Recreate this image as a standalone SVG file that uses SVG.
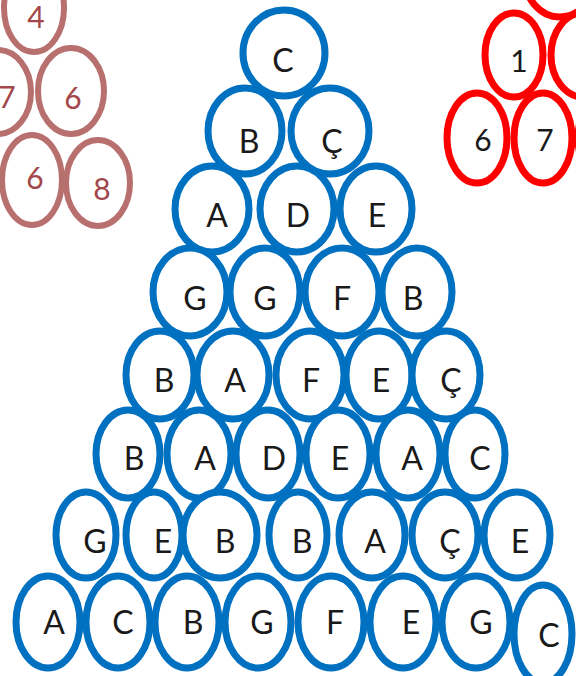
<svg xmlns="http://www.w3.org/2000/svg" width="576" height="676" viewBox="0 0 576 676">
<style>
.b{fill:#fff;stroke:#0070C0;stroke-width:7}
.r{fill:#fff;stroke:#FF0000;stroke-width:7}
.m{fill:#fff;stroke:#B8706F;stroke-width:6}
text{font-family:Lato,"Liberation Sans",sans-serif;font-size:32px;text-anchor:middle;fill:#1a1a1a}
.mt{fill:#A3474A;font-size:30px}
.rt{font-size:30px}
</style>
<rect width="576" height="676" fill="#fff"/>
<g id="connectors"/>
<!-- brown cluster -->
<g id="m4"><ellipse class="m" cx="34" cy="8" rx="30" ry="44"/><text class="mt" x="36" y="28">4</text></g>
<g id="m7"><ellipse class="m" cx="-2" cy="92" rx="33" ry="42"/><text class="mt" x="7" y="108">7</text></g>
<g id="m6a"><ellipse class="m" cx="71" cy="91" rx="33" ry="43"/><text class="mt" x="73" y="109">6</text></g>
<g id="m6b"><ellipse class="m" cx="32" cy="180" rx="30" ry="45"/><text class="mt" x="35" y="189">6</text></g>
<g id="m8"><ellipse class="m" cx="98" cy="183" rx="32" ry="43"/><text class="mt" x="102" y="200">8</text></g>
<!-- red cluster -->
<g id="rtop"><ellipse class="r" cx="560" cy="-25" rx="36" ry="42"/></g>
<g id="r1"><ellipse class="r" cx="514" cy="55" rx="29" ry="42"/><text class="rt" x="519" y="72">1</text></g>
<g id="rr1"><ellipse class="r" cx="583" cy="55" rx="32" ry="42"/></g>
<g id="r6"><ellipse class="r" cx="477" cy="138" rx="30" ry="45"/><text class="rt" x="483" y="151">6</text></g>
<g id="r7"><ellipse class="r" cx="543" cy="138" rx="29" ry="45"/><text class="rt" x="545" y="151">7</text></g>
<g id="rr2"><ellipse class="r" cx="608" cy="138" rx="30" ry="45"/></g>
<!-- blue pyramid row 1 -->
<g id="n1_1"><ellipse class="b" cx="284" cy="53" rx="41" ry="43"/><text x="283" y="71.5">C</text></g>
<!-- row 2 -->
<g id="n2_1"><ellipse class="b" cx="245" cy="131" rx="37" ry="43"/><text x="249" y="152.5">B</text></g>
<g id="n2_2"><ellipse class="b" cx="330" cy="131" rx="39" ry="43"/><text x="332" y="152.5">Ç</text></g>
<!-- row 3 -->
<g id="n3_1"><ellipse class="b" cx="212" cy="209" rx="37" ry="43"/><text x="217" y="226.5">A</text></g>
<g id="n3_2"><ellipse class="b" cx="297" cy="209" rx="37" ry="43"/><text x="298" y="226.5">D</text></g>
<g id="n3_3"><ellipse class="b" cx="376" cy="209" rx="36" ry="43"/><text x="377" y="226.5">E</text></g>
<!-- row 4 -->
<g id="n4_1"><ellipse class="b" cx="190" cy="292" rx="37" ry="44"/><text x="195" y="309.5">G</text></g>
<g id="n4_2"><ellipse class="b" cx="265" cy="292" rx="35" ry="44"/><text x="265" y="309.5">G</text></g>
<g id="n4_3"><ellipse class="b" cx="342" cy="292" rx="37" ry="44"/><text x="342" y="309.5">F</text></g>
<g id="n4_4"><ellipse class="b" cx="417" cy="292" rx="35" ry="44"/><text x="413" y="309.5">B</text></g>
<!-- row 5 -->
<g id="n5_1"><ellipse class="b" cx="160" cy="375" rx="34" ry="44"/><text x="164" y="391.5">B</text></g>
<g id="n5_2"><ellipse class="b" cx="233" cy="375" rx="36" ry="44"/><text x="235" y="391.5">A</text></g>
<g id="n5_3"><ellipse class="b" cx="310" cy="375" rx="34" ry="44"/><text x="311" y="391.5">F</text></g>
<g id="n5_4"><ellipse class="b" cx="379" cy="375" rx="33" ry="44"/><text x="381" y="391.5">E</text></g>
<g id="n5_5"><ellipse class="b" cx="446" cy="375" rx="34" ry="44"/><text x="451" y="391.5">Ç</text></g>
<!-- row 6 -->
<g id="n6_1"><ellipse class="b" cx="128" cy="454" rx="32" ry="44"/><text x="134" y="469.5">B</text></g>
<g id="n6_2"><ellipse class="b" cx="199" cy="454" rx="32" ry="44"/><text x="205" y="469.5">A</text></g>
<g id="n6_3"><ellipse class="b" cx="268" cy="454" rx="32" ry="44"/><text x="274" y="469.5">D</text></g>
<g id="n6_4"><ellipse class="b" cx="338" cy="454" rx="32" ry="44"/><text x="340" y="469.5">E</text></g>
<g id="n6_5"><ellipse class="b" cx="408" cy="454" rx="32" ry="44"/><text x="412" y="469.5">A</text></g>
<g id="n6_6"><ellipse class="b" cx="475" cy="454" rx="30" ry="44"/><text x="480" y="469.5">C</text></g>
<!-- row 7 -->
<g id="n7_1"><ellipse class="b" cx="86" cy="535" rx="30" ry="43"/><text x="95" y="552.5">G</text></g>
<g id="n7_2"><ellipse class="b" cx="154" cy="535" rx="28" ry="43"/><text x="163" y="552.5">E</text></g>
<g id="n7_3"><ellipse class="b" cx="220" cy="535" rx="37" ry="43"/><text x="225" y="552.5">B</text></g>
<g id="n7_4"><ellipse class="b" cx="298" cy="535" rx="29" ry="43"/><text x="302" y="552.5">B</text></g>
<g id="n7_5"><ellipse class="b" cx="372" cy="535" rx="33" ry="43"/><text x="375" y="552.5">A</text></g>
<g id="n7_6"><ellipse class="b" cx="445" cy="535" rx="33" ry="43"/><text x="450" y="552.5">Ç</text></g>
<g id="n7_7"><ellipse class="b" cx="517" cy="535" rx="33" ry="43"/><text x="520" y="552.5">E</text></g>
<!-- row 8 -->
<g id="n8_1"><ellipse class="b" cx="48" cy="622" rx="32" ry="46"/><text x="54" y="633.5">A</text></g>
<g id="n8_2"><ellipse class="b" cx="118" cy="622" rx="32" ry="46"/><text x="123" y="633.5">C</text></g>
<g id="n8_3"><ellipse class="b" cx="187" cy="622" rx="32" ry="46"/><text x="193" y="633.5">B</text></g>
<g id="n8_4"><ellipse class="b" cx="258" cy="622" rx="33" ry="46"/><text x="262" y="633.5">G</text></g>
<g id="n8_5"><ellipse class="b" cx="331" cy="622" rx="33" ry="46"/><text x="335" y="633.5">F</text></g>
<g id="n8_6"><ellipse class="b" cx="403" cy="622" rx="33" ry="46"/><text x="411" y="633.5">E</text></g>
<g id="n8_7"><ellipse class="b" cx="476" cy="622" rx="34" ry="46"/><text x="481" y="633.5">G</text></g>
<g id="n8_8"><ellipse class="b" cx="543" cy="634" rx="29" ry="49"/><text x="549" y="646.5">C</text></g>
</svg>
